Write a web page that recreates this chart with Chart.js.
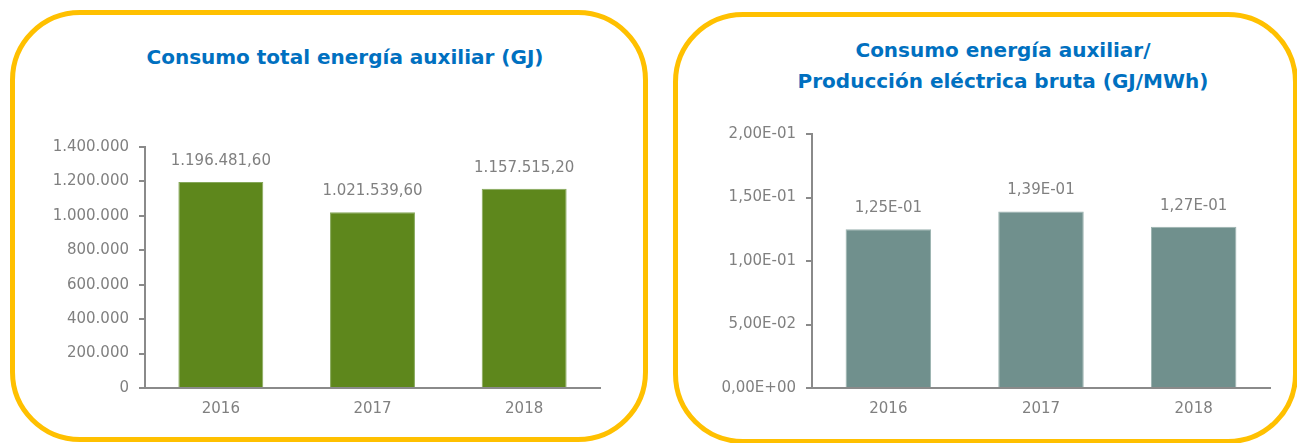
<!DOCTYPE html>
<html lang="es">
<head>
    <meta charset="UTF-8">
    <title>Consumo energía auxiliar</title>
    <style>
        html, body {
            margin: 0;
            padding: 0;
            background: #fff;
            width: 1297px;
            height: 443px;
            overflow: hidden;
            position: relative;
        }
        .panel {
            position: absolute;
            box-sizing: border-box;
            border: 5px solid #ffc000;
            border-radius: 70px;
        }
        .panel-title {
            position: absolute;
            color: #0070c0;
            font-family: "DejaVu Sans", sans-serif;
            font-weight: bold;
            font-size: 20px;
            text-align: center;
            line-height: 31px;
            white-space: nowrap;
        }
        .chart-box {
            position: absolute;
        }
    </style>
    <script src="https://cdn.jsdelivr.net/npm/chart.js@4.4.1/dist/chart.umd.min.js"></script>
</head>
<body>
<div class="panel" style="left:10px; top:10px; width:638px; height:432px;"></div>
<div class="panel" style="left:673px; top:12px; width:625px; height:432px;"></div>

<div class="panel-title" style="left:115px; width:460px; top:42px;">Consumo total energía auxiliar (GJ)</div>
<div class="panel-title" style="left:763px; width:480px; top:35px;">Consumo energía auxiliar/<br>Producción eléctrica bruta (GJ/MWh)</div>

<div class="chart-box" style="left:15px; top:15px; width:628px; height:425px;">
    <canvas id="totalChart"></canvas>
</div>
<div class="chart-box" style="left:678px; top:17px; width:614px; height:423px;">
    <canvas id="ratioChart"></canvas>
</div>

<script>
    // data
    const years = ['2016', '2017', '2018'];
    const consumoTotal = [1196481.6, 1021539.6, 1157515.2];
    const consumoRatio = [0.125, 0.139, 0.127];

    const totalTicks = { min: 0, max: 1400000, step: 200000 };
    const ratioTicks = { min: 0, max: 0.2, step: 0.05 };

    const grey = '#808080';
    const axisGrey = '#8a8a8a';
    const font = { family: '"DejaVu Sans", sans-serif', size: 15 };

    // 1196481.6 -> "1.196.481,60"
    function fmtEs(v, decimals) {
        const parts = v.toFixed(decimals).split('.');
        const intPart = parts[0].replace(/\B(?=(\d{3})+(?!\d))/g, '.');
        return parts.length > 1 ? intPart + ',' + parts[1] : intPart;
    }

    // 0.125 -> "1,25E-01"
    function fmtExp(v) {
        const s = v.toExponential(2).split('e');
        let exp = parseInt(s[1], 10);
        const sign = exp < 0 ? '-' : '+';
        exp = Math.abs(exp);
        return s[0].replace('.', ',') + 'E' + sign + (exp < 10 ? '0' : '') + exp;
    }

    // labels above the bars
    const valueLabels = {
        id: 'valueLabels',
        afterDatasetsDraw(chart, args, opts) {
            const ctx = chart.ctx;
            const meta = chart.getDatasetMeta(0);
            const data = chart.data.datasets[0].data;
            ctx.save();
            ctx.fillStyle = grey;
            ctx.font = font.size + 'px ' + font.family;
            ctx.textAlign = 'center';
            ctx.textBaseline = 'middle';
            meta.data.forEach(function(bar, i) {
                ctx.fillText(opts.format(data[i]), bar.x, bar.y - 21);
            });
            ctx.restore();
        }
    };

    function makeChart(canvasId, values, range, color, edge, fmtTick, fmtLabel, yWidth, padTop, padRight) {
        const ctx = document.getElementById(canvasId).getContext('2d');
        return new Chart(ctx, {
            type: 'bar',
            data: {
                labels: years,
                datasets: [{
                    data: values,
                    backgroundColor: color,
                    borderColor: edge,
                    borderWidth: 1,
                    categoryPercentage: 1,
                    barPercentage: 0.56
                }]
            },
            options: {
                responsive: true,
                maintainAspectRatio: false,
                animation: false,
                layout: { padding: { top: padTop, right: padRight, left: 0, bottom: 0 } },
                scales: {
                    x: {
                        grid: { display: true, drawOnChartArea: false, drawTicks: false, color: 'rgba(0,0,0,0)' },
                        border: { display: true, color: axisGrey, width: 2 },
                        ticks: { color: grey, font: font, padding: 12 },
                        afterFit: function(scale) { scale.height = 52; }
                    },
                    y: {
                        min: range.min,
                        max: range.max,
                        grid: { display: true, drawOnChartArea: false, drawTicks: true, tickLength: 6, color: axisGrey, lineWidth: 2 },
                        border: { display: true, color: axisGrey, width: 2 },
                        ticks: {
                            stepSize: range.step,
                            color: grey,
                            font: font,
                            padding: 10,
                            callback: function(v) { return fmtTick(v); }
                        },
                        afterFit: function(scale) { scale.width = yWidth; }
                    }
                },
                plugins: {
                    legend: { display: false },
                    tooltip: { enabled: false },
                    valueLabels: { format: fmtLabel }
                }
            },
            plugins: [valueLabels]
        });
    }

    document.addEventListener('DOMContentLoaded', function() {
        makeChart('totalChart', consumoTotal, totalTicks, '#5e871c', '#86a85a',
            function(v) { return fmtEs(v, 0); },
            function(v) { return fmtEs(v, 2); },
            130, 132, 43);

        makeChart('ratioChart', consumoRatio, ratioTicks, '#70908d', '#9ab2af',
            function(v) { return fmtExp(v); },
            function(v) { return fmtExp(v); },
            134, 117, 22);
    });
</script>
</body>
</html>
